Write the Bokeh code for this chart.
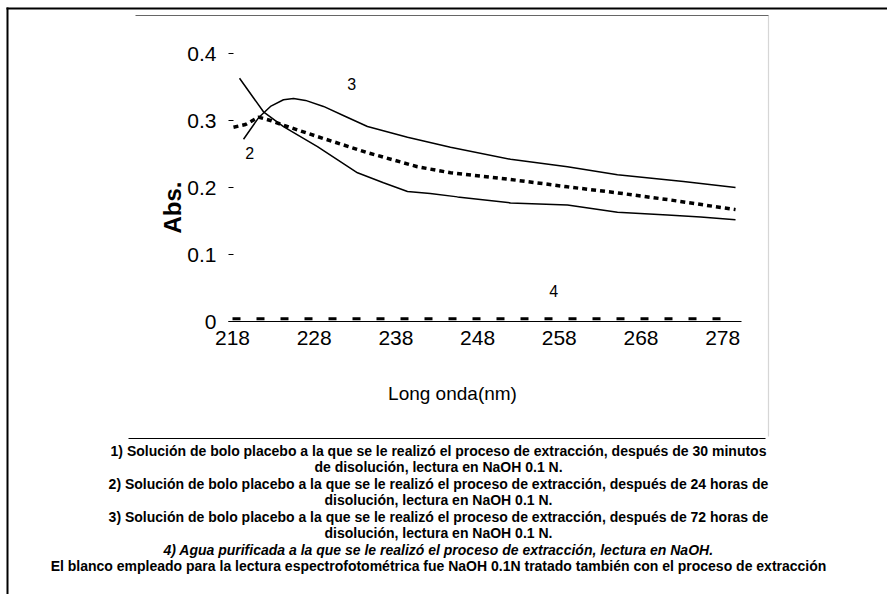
from bokeh.plotting import figure
from bokeh.models import Label, BoxAnnotation, FixedTicker, Range1d
from bokeh.embed import file_html
from bokeh.resources import INLINE
from bokeh.core.properties import value
import math

# ---------------- data ----------------
wl_1 = [218.86, 221.79, 224.24, 228.40, 233.30, 236.48, 239.42, 242.2, 245.54, 252.03, 259.00, 265.12, 271.24, 275.3, 279.57]
abs_1 = [0.363, 0.313, 0.291, 0.261, 0.222, 0.207, 0.194, 0.191, 0.186, 0.177, 0.174, 0.163, 0.159, 0.156, 0.152]

wl_2 = [218.12, 219.59, 221.18, 222.65, 224.24, 228.40, 234.52, 240.64, 244.68, 252.03, 259.00, 265.12, 271.24, 279.57]
abs_2 = [0.290, 0.294, 0.305, 0.300, 0.293, 0.276, 0.252, 0.231, 0.222, 0.212, 0.201, 0.192, 0.182, 0.167]

wl_3 = [219.35, 221.18, 222.65, 224.24, 225.47, 226.94, 229.14, 231.83, 234.52, 239.42, 244.68, 252.03, 259.00, 265.12, 273.20, 279.57]
abs_3 = [0.272, 0.304, 0.321, 0.331, 0.333, 0.330, 0.321, 0.306, 0.291, 0.275, 0.260, 0.242, 0.231, 0.219, 0.209, 0.200]

wl_4 = [218.0, 228.0, 238.0, 248.0, 258.0, 268.0, 278.0, 279.6]
abs_4 = [0.004, 0.004, 0.004, 0.004, 0.004, 0.004, 0.004, 0.004]

curve_names = ["2", "3", "4"]
curve_name_x = [220.1, 232.6, 257.3]
curve_name_y = [0.252, 0.355, 0.046]

x_ticks = [218, 228, 238, 248, 258, 268, 278]
y_ticks = [0, 0.1, 0.2, 0.3, 0.4]
y_tick_labels = ["0", "0.1", "0.2", "0.3", "0.4"]

x_title = "Long onda(nm)"
y_title = "Abs."
caption = [
    "1) Solución de bolo placebo a la que se le realizó el proceso de extracción, después de 30 minutos",
    "de disolución, lectura en NaOH 0.1 N.",
    "2) Solución de bolo placebo a la que se le realizó el proceso de extracción, después de 24 horas de",
    "disolución, lectura en NaOH 0.1 N.",
    "3) Solución de bolo placebo a la que se le realizó el proceso de extracción, después de 72 horas de",
    "disolución, lectura en NaOH 0.1 N.",
    "4) Agua purificada a la que se le realizó el proceso de extracción, lectura en NaOH.",
    "El blanco empleado para la lectura espectrofotométrica fue NaOH 0.1N tratado también con el proceso de extracción",
]
caption_style = ["bold", "bold", "bold", "bold", "bold", "bold", "bold italic", "bold"]

# ---------------- layout (pixels on the canvas) ----------------
W, H = 887, 594
PX_X0, PX_PER_NM = 232.0, 8.17      # pixel of 218 nm, pixels per nm
PX_Y0, PX_PER_ABS = 321.0, 670.0    # pixel of Abs = 0, pixels per Abs unit


def dx(px):
    return 218.0 + (px - PX_X0) / PX_PER_NM


def dy(py):
    return (PX_Y0 - py) / PX_PER_ABS


SANS = "'Liberation Sans', Arial, sans-serif"

p = figure(width=W, height=H, output_backend="svg", toolbar_location=None,
           x_range=Range1d(dx(0), dx(W)), y_range=Range1d(dy(H), dy(0)),
           min_border=0)
p.background_fill_color = "white"
p.border_fill_color = "white"
p.outline_line_color = None
p.grid.visible = False

# axes, fixed inside the canvas
xa = p.xaxis[0]
xa.fixed_location = 0
xa.bounds = (dx(228), dx(741))
xa.ticker = FixedTicker(ticks=x_ticks)
xa.axis_line_color = "black"
xa.axis_line_width = 1
xa.major_tick_in = 0
xa.major_tick_out = 0
xa.minor_tick_line_color = None
xa.major_label_text_font = SANS
xa.major_label_text_font_size = "21px"
xa.major_label_text_color = "black"
xa.major_label_standoff = 9

ya = p.yaxis[0]
ya.fixed_location = dx(228)
ya.bounds = (0, 0.4)
ya.ticker = FixedTicker(ticks=y_ticks)
ya.major_label_overrides = {t: s for t, s in zip(y_ticks, y_tick_labels)}
ya.axis_line_color = None
ya.major_tick_in = 5
ya.major_tick_out = 0
ya.major_tick_line_color = "black"
ya.minor_tick_line_color = None
ya.major_label_text_font = SANS
ya.major_label_text_font_size = "21px"
ya.major_label_text_color = "black"
ya.major_label_standoff = 12

# curves
p.line(wl_1, abs_1, line_color="black", line_width=1.5)
p.line(wl_3, abs_3, line_color="black", line_width=1.5)
p.line(wl_2, abs_2, line_color="black", line_width=3.5, line_dash="5 4")
p.line(wl_4, abs_4, line_color="black", line_width=3, line_dash="8 16")

p.text(curve_name_x, curve_name_y, text=curve_names, text_font=value(SANS),
       text_font_size="16px", text_align="center", text_baseline="middle", text_color="black")

# titles
p.add_layout(Label(x=dx(452), y=dy(393), text=x_title,
                   text_font=SANS, text_font_size="19px", text_align="center",
                   text_baseline="middle", text_color="black"))
p.add_layout(Label(x=dx(172), y=dy(207), text=y_title,
                   angle=math.pi / 2, text_font=SANS, text_font_size="24px", text_font_style="bold",
                   text_align="center", text_baseline="middle", text_color="black"))

for i, (line, style) in enumerate(zip(caption, caption_style)):
    p.add_layout(Label(x=dx(438), y=dy(450 + 16.5 * i),
                       text=line, text_font=SANS, text_font_size="14px", text_font_style=style,
                       text_align="center", text_baseline="middle", text_color="black"))


# frame decorations (scan border)
def band(l, r, t, b, color="black"):
    p.add_layout(BoxAnnotation(left=dx(l), right=dx(r), top=dy(t), bottom=dy(b),
                               fill_color=color, fill_alpha=1, line_color=None))


band(6, 887, 7, 9)            # outer top
band(6, 8, 7, 594)            # outer left
band(135, 768, 14.5, 15.5, color="#666666")   # inner top
band(128, 765, 437.5, 438.5)  # inner bottom
p.add_layout(BoxAnnotation(left=dx(768), right=dx(768), top=dy(15), bottom=dy(436),
                           fill_alpha=0, line_color="#777777", line_width=1.2, line_dash="7 3"))  # inner right

open("out.html", "w").write(file_html(p, INLINE))
